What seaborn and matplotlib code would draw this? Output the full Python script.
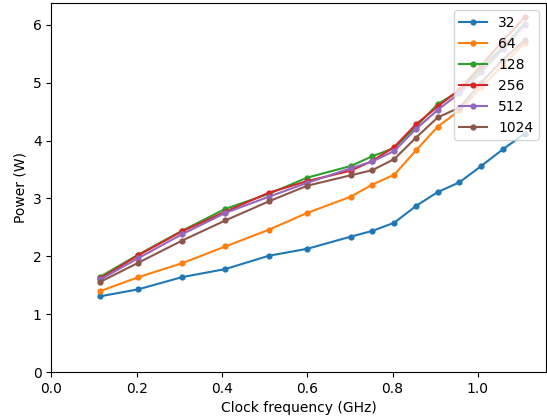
import pandas as pd
import matplotlib
matplotlib.use('Agg')
import matplotlib.pyplot as plt
import seaborn as sns

# Clock frequencies (GHz)
freq = [0.115, 0.204, 0.306, 0.408, 0.510, 0.600, 0.702, 0.753, 0.804,
        0.855, 0.906, 0.957, 1.008, 1.059, 1.110]

# Power (W) per batch size
p32 = [1.31, 1.43, 1.64, 1.78, 2.01, 2.13, 2.34, 2.44, 2.58, 2.87, 3.11, 3.28, 3.56, 3.85, 4.12]
p64 = [1.40, 1.64, 1.88, 2.17, 2.46, 2.75, 3.03, 3.24, 3.41, 3.83, 4.24, 4.52, 4.92, 5.30, 5.69]
p128 = [1.65, 2.03, 2.44, 2.82, 3.08, 3.36, 3.56, 3.73, 3.87, 4.24, 4.63, 4.86, 5.25, 5.62, 6.02]
p256 = [1.62, 2.02, 2.43, 2.77, 3.10, 3.30, 3.48, 3.65, 3.89, 4.28, 4.59, 4.88, 5.30, 5.72, 6.13]
p512 = [1.60, 1.97, 2.38, 2.75, 3.03, 3.27, 3.52, 3.64, 3.82, 4.20, 4.53, 4.82, 5.18, 5.58, 6.00]
p1024 = [1.56, 1.89, 2.27, 2.62, 2.95, 3.22, 3.40, 3.49, 3.68, 4.05, 4.40, 4.57, 5.00, 5.40, 5.73]

sizes = ['32', '64', '128', '256', '512', '1024']
series = [p32, p64, p128, p256, p512, p1024]

rows = []
for s, vals in zip(sizes, series):
    for f, v in zip(freq, vals):
        rows.append({'freq': f, 'power': v, 'size': s})
df = pd.DataFrame(rows)

fig, ax = plt.subplots(figsize=(5.47, 4.19), dpi=100)
fig.subplots_adjust(left=0.094, right=0.998, bottom=0.112, top=0.992)

sns.lineplot(data=df, x='freq', y='power', hue='size', hue_order=sizes,
             palette=sns.color_palette('tab10', 6), marker='o',
             markersize=4.5, markeredgewidth=0, linewidth=1.5, ax=ax)

ax.set_xlim(left=0)
ax.set_ylim(bottom=0)
ax.set_xlabel('Clock frequency (GHz)')
ax.set_ylabel('Power (W)')

handles, labels = ax.get_legend_handles_labels()
ax.legend(handles, labels, loc='upper right')

plt.savefig('out.png', dpi=100)
